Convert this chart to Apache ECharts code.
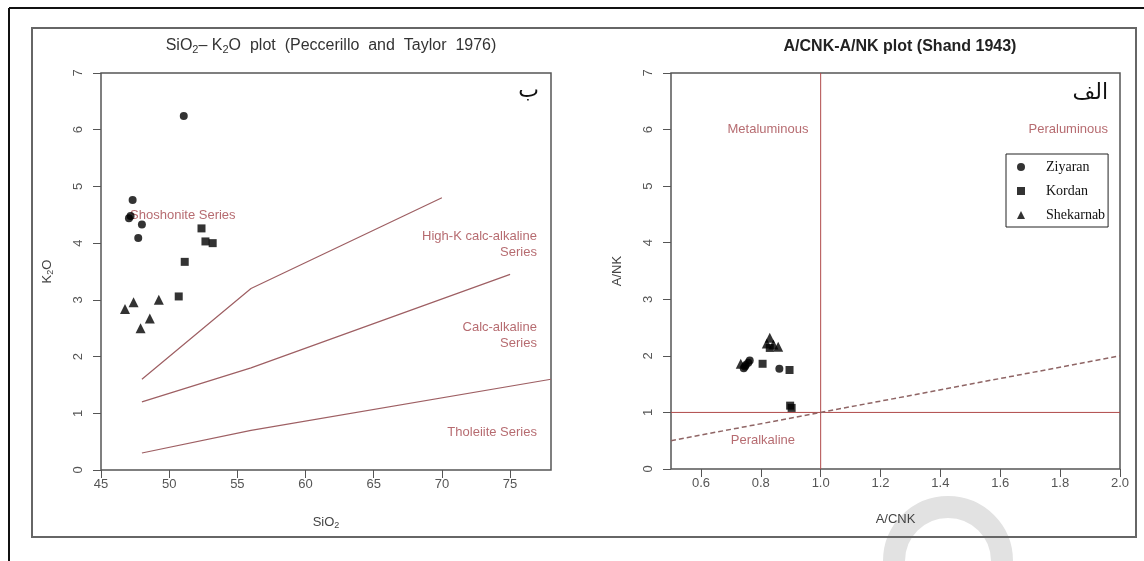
<!DOCTYPE html>
<html>
<head>
<meta charset="utf-8">
<script src="https://cdn.jsdelivr.net/npm/echarts@6/dist/echarts.min.js"></script>
<style>
html,body{margin:0;padding:0;background:#fff;}
#chart{width:1144px;height:561px;}
</style>
</head>
<body>
<div id="chart"></div>
<script>
// ---- tick labels ----
const sio2Ticks = [45, 50, 55, 60, 65, 70, 75];
const k2oTicks = [0, 1, 2, 3, 4, 5, 6, 7];
const acnkTicks = [0.6, 0.8, 1.0, 1.2, 1.4, 1.6, 1.8, 2.0];
const ankTicks = [0, 1, 2, 3, 4, 5, 6, 7];

// ---- SiO2 - K2O data ----
const ziyaranSiK = [[51.07, 6.24], [47.32, 4.76], [47.17, 4.48], [47.05, 4.44], [48.0, 4.33], [47.73, 4.09]];
const kordanSiK = [[52.37, 4.26], [52.66, 4.03], [53.19, 4.0], [51.14, 3.67], [50.7, 3.06]];
const shekarnabSiK = [[46.76, 2.84], [47.39, 2.96], [49.24, 3.0], [48.58, 2.67], [47.9, 2.5]];

// boundaries (Peccerillo & Taylor 1976)
const shoshoniteBoundary = [[48, 1.6], [56, 3.2], [70, 4.8]];
const highKBoundary = [[48, 1.2], [56, 1.8], [75, 3.45]];
const tholeiiteBoundary = [[48, 0.3], [56, 0.7], [78, 1.6]];

// field labels
const leftFieldNames = ['Shoshonite Series', 'High-K calc-alkaline\nSeries', 'Calc-alkaline\nSeries', 'Tholeiite Series'];
const leftFieldPos = [[51.0, 4.48], [76.97, 3.97], [76.97, 2.38], [76.97, 0.67]];
const leftFieldAlign = ['center', 'right', 'right', 'right'];

// ---- A/CNK - A/NK data ----
const ziyaranShand = [[0.743, 1.78], [0.75, 1.84], [0.763, 1.92], [0.758, 1.88], [0.862, 1.77], [0.747, 1.81]];
const kordanShand = [[0.806, 1.86], [0.83, 2.14], [0.896, 1.75], [0.898, 1.12], [0.903, 1.08]];
const shekarnabShand = [[0.733, 1.86], [0.83, 2.32], [0.82, 2.22], [0.858, 2.16], [0.842, 2.2]];

const acnkLine = [[1.0, 0], [1.0, 7]];
const ankLine = [[0.5, 1], [2.0, 1]];
const equalLine = [[0.5, 0.5], [2.0, 2.0]];

const rightFieldNames = ['Metaluminous', 'Peraluminous', 'Peralkaline'];
const rightFieldPos = [[0.824, 6.0], [1.96, 6.0], [0.807, 0.5]];
const rightFieldAlign = ['center', 'right', 'center'];

const groupNames = ['Ziyaran', 'Kordan', 'Shekarnab'];
const groupSymbols = ['circle', 'rect', 'triangle'];
const groupSizes = [8, 8, 10];

const FONT = 'Liberation Sans, Arial, sans-serif';
const labelRed = '#a4464c';
const axisGray = '#555';

function valueAxis(gridIndex, min, max, ticks, decimals, name, nameGap, extra) {
  return Object.assign({
    type: 'value', gridIndex: gridIndex, min: min, max: max,
    splitLine: { show: false },
    axisLine: { show: false },
    axisTick: { show: true, inside: false, length: 8, lineStyle: { color: axisGray, width: 1 }, customValues: ticks },
    axisLabel: {
      customValues: ticks, color: '#555', fontSize: 13, fontFamily: FONT,
      formatter: v => Number(v).toFixed(decimals)
    },
    name: name, nameLocation: 'middle', nameGap: nameGap,
    nameTextStyle: { color: '#444', fontSize: 13, fontFamily: FONT }
  }, extra || {});
}

function labelSeries(xi, yi, names, pos, aligns) {
  return {
    type: 'scatter', xAxisIndex: xi, yAxisIndex: yi, symbolSize: 0, silent: true, z: 5,
    data: names.map((n, i) => ({
      name: n, value: pos[i],
      label: { show: true, position: 'inside', align: aligns[i], verticalAlign: 'middle',
        formatter: '{b}', color: labelRed, fontSize: 13, fontFamily: FONT, lineHeight: 16 }
    }))
  };
}

function lineSeries(xi, yi, data, color, type, width) {
  return {
    type: 'line', xAxisIndex: xi, yAxisIndex: yi, data: data, symbol: 'none', silent: true,
    lineStyle: { color: color, width: width || 1.2, type: type || 'solid' }, z: 3
  };
}

const pointSets = [[ziyaranSiK, kordanSiK, shekarnabSiK], [ziyaranShand, kordanShand, shekarnabShand]];
const pointSeries = [];
for (let p = 0; p < 2; p++) {
  for (let g = 0; g < 3; g++) {
    pointSeries.push({
      type: 'scatter', name: groupNames[g], xAxisIndex: p, yAxisIndex: p,
      data: pointSets[p][g], symbol: groupSymbols[g], symbolSize: groupSizes[g],
      itemStyle: { color: '#000' }, z: 10
    });
  }
}

const subRich = {
  a: { fontSize: 16, color: '#333', fontFamily: FONT, fontWeight: 'normal' },
  s: { fontSize: 11, color: '#333', fontFamily: FONT, fontWeight: 'normal', padding: [8, 0, 0, 0] }
};
const nameRich = {
  a: { fontSize: 13, color: '#444', fontFamily: FONT },
  s: { fontSize: 9, color: '#444', fontFamily: FONT, padding: [7, 0, 0, 0] }
};

const chart = echarts.init(document.getElementById('chart'), null, { renderer: 'canvas' });
chart.setOption({
  animation: false,
  backgroundColor: '#fff',
  title: [
    { text: '{a|SiO}{s|2}{a|– K}{s|2}{a|O  plot  (Peccerillo  and  Taylor  1976)}',
      left: 326, top: 31, textAlign: 'center', textStyle: { fontWeight: 'normal', rich: subRich } },
    { text: 'A/CNK-A/NK plot (Shand 1943)', left: 895, top: 34, textAlign: 'center',
      textStyle: { fontSize: 16, fontWeight: 'bold', color: '#222', fontFamily: FONT } }
  ],
  legend: {
    data: groupNames.map((n, i) => ({ name: n, icon: groupSymbols[i] })),
    orient: 'vertical', left: 1006, top: 154,
    itemWidth: 8, itemHeight: 8, itemGap: 10,
    padding: [6, 3, 5, 11],
    borderColor: '#222', borderWidth: 1,
    selectedMode: false,
    inactiveColor: '#000',
    textStyle: { fontFamily: 'Liberation Serif, Times New Roman, serif', fontSize: 14, color: '#111', padding: [0, 0, 0, 16] }
  },
  grid: [
    { left: 101, top: 73, width: 450, height: 397, show: true, borderColor: axisGray, borderWidth: 1.5, backgroundColor: 'transparent' },
    { left: 671, top: 73, width: 449, height: 396, show: true, borderColor: axisGray, borderWidth: 1.5, backgroundColor: 'transparent' }
  ],
  xAxis: [
    valueAxis(0, 45, 78, sio2Ticks, 0, '{a|SiO}{s|2}', 44, { nameTextStyle: { rich: nameRich } }),
    valueAxis(1, 0.5, 2.0, acnkTicks, 1, 'A/CNK', 44)
  ],
  yAxis: [
    valueAxis(0, 0, 7, k2oTicks, 0, '{a|K}{s|2}{a|O}', 46, { nameRotate: 90, nameTextStyle: { rich: nameRich } }),
    valueAxis(1, 0, 7, ankTicks, 0, 'A/NK', 47, { nameRotate: 90 })
  ].map(a => { a.axisLabel.rotate = 90; a.axisLabel.margin = 16; return a; }),
  series: [
    lineSeries(0, 0, shoshoniteBoundary, '#9e5f63'),
    lineSeries(0, 0, highKBoundary, '#9e5f63'),
    lineSeries(0, 0, tholeiiteBoundary, '#9e5f63'),
    labelSeries(0, 0, leftFieldNames, leftFieldPos, leftFieldAlign),
    lineSeries(1, 1, acnkLine, '#b04a4a', 'solid', 1),
    lineSeries(1, 1, ankLine, '#b04a4a', 'solid', 1),
    lineSeries(1, 1, equalLine, '#8f6565', [5, 3], 1.5),
    labelSeries(1, 1, rightFieldNames, rightFieldPos, rightFieldAlign)
  ].concat(pointSeries),
  graphic: [
    { type: 'arc', shape: { cx: 948, cy: 561, r: 54, startAngle: Math.PI * 1.0, endAngle: Math.PI * 2.02 },
      style: { stroke: '#e2e2e2', lineWidth: 22, fill: null }, z: 0, silent: true },
    { type: 'rect', shape: { x: 32, y: 28, width: 1104, height: 509 },
      style: { stroke: '#666', lineWidth: 2, fill: null }, z: 1, silent: true },
    { type: 'line', shape: { x1: 9, y1: 8, x2: 1144, y2: 8 }, style: { stroke: '#111', lineWidth: 2 }, silent: true },
    { type: 'line', shape: { x1: 9, y1: 8, x2: 9, y2: 561 }, style: { stroke: '#111', lineWidth: 2 }, silent: true },
    { type: 'text', right: 1144 - 539, top: 80, style: { text: 'ب', fontSize: 22, fill: '#111', fontFamily: 'DejaVu Sans' }, silent: true },
    { type: 'text', right: 1144 - 1108, top: 82, style: { text: 'الف', fontSize: 22, fill: '#111', fontFamily: 'DejaVu Sans' }, silent: true }
  ]
});
</script>
</body>
</html>
